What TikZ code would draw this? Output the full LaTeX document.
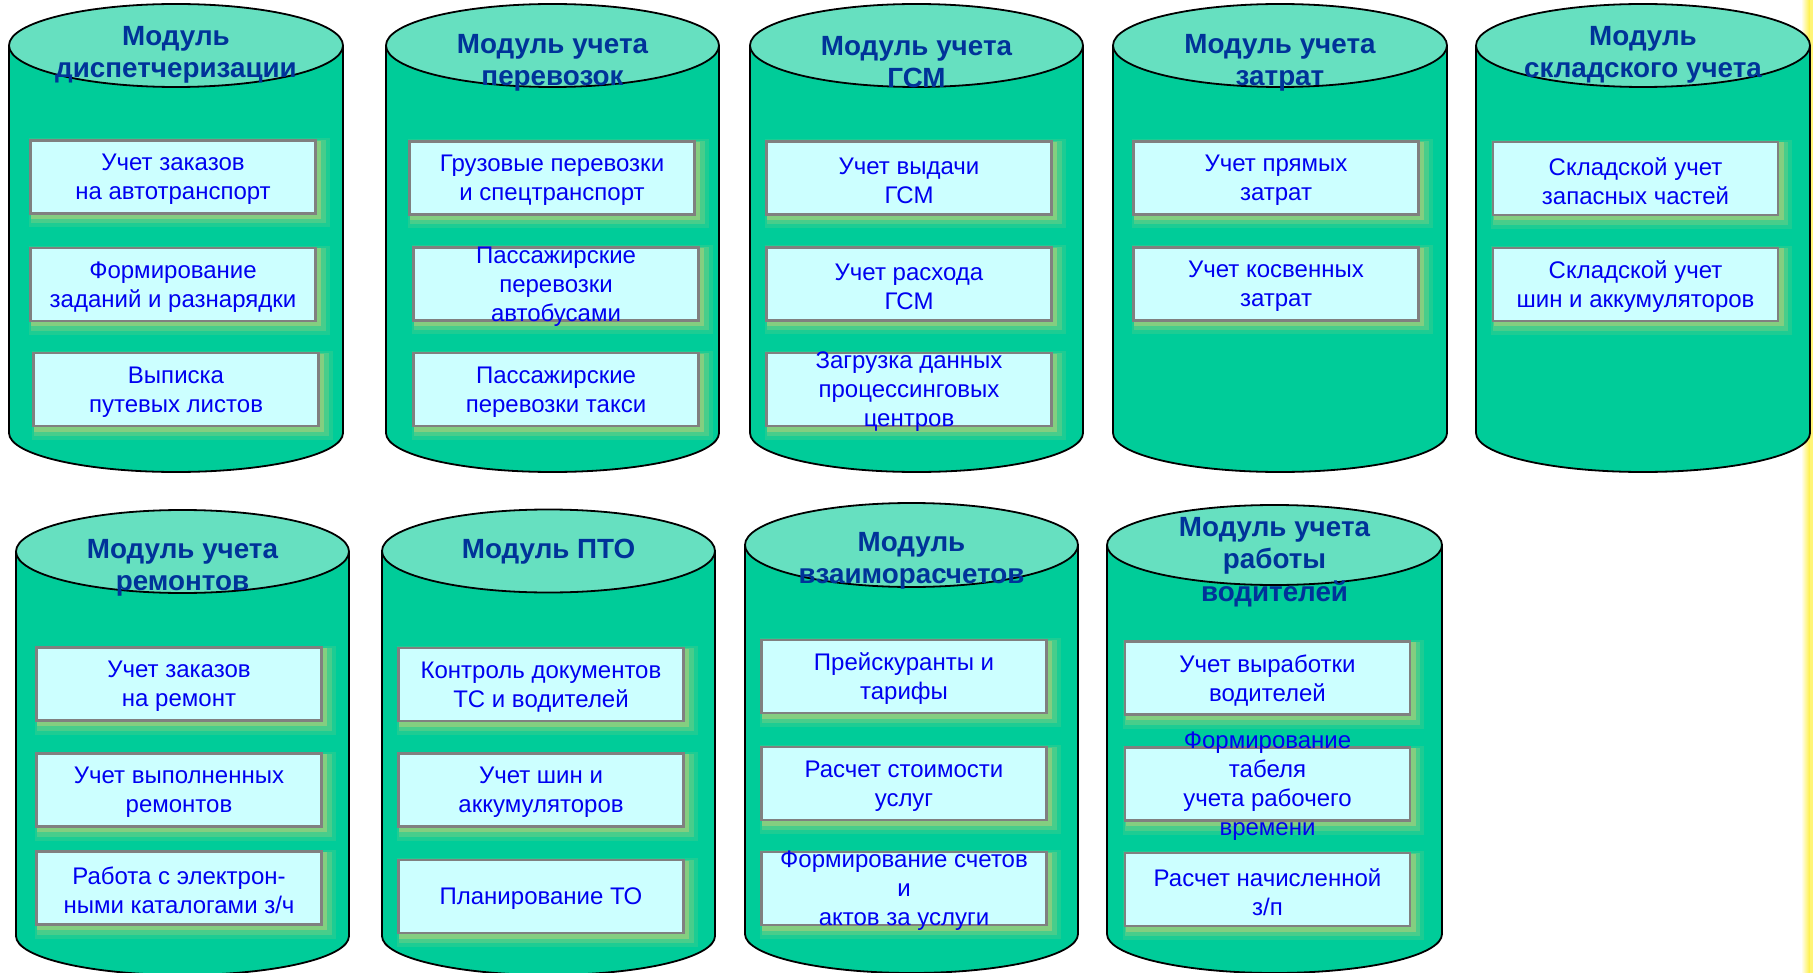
\documentclass[tikz,border=0pt]{standalone}
\usepackage{fontspec}
\newfontfamily\libsans{Liberation Sans}
\definecolor{cylbody}{RGB}{0,204,153}
\definecolor{cyltop}{RGB}{102,224,192}
\definecolor{titleblue}{RGB}{0,51,153}
\definecolor{boxblue}{RGB}{0,0,240}
\definecolor{boxfill}{RGB}{204,255,255}
\definecolor{boxgray}{RGB}{128,128,128}
\definecolor{glow}{RGB}{245,210,110}
\definecolor{edgeyellow}{RGB}{255,240,60}
\newcommand\bxfont{\libsans\fontsize{24}{29}\selectfont}
\newcommand\ttlfont{\libsans\bfseries\fontsize{27.8}{32.5}\selectfont}
\tikzset{
  body/.style={fill=cylbody, draw=black, line width=1.8pt},
  lid/.style={fill=cyltop, draw=black, line width=1.8pt},
  title/.style={font=\ttlfont, text=titleblue, align=center, inner sep=0pt, yshift=-3pt},
  modbox/.style={draw=boxgray, line width=2.6pt, fill=boxfill,
    minimum width=285pt, minimum height=73pt, inner sep=0pt,
    preaction={draw=glow, draw opacity=.12, line width=16pt,
      transform canvas={shift={(6pt,-6pt)}}},
    preaction={draw=glow, draw opacity=.20, line width=10pt,
      transform canvas={shift={(5pt,-5pt)}}},
    preaction={draw=glow, draw opacity=.35, line width=5pt,
      transform canvas={shift={(3pt,-3pt)}}}},
  btext/.style={font=\bxfont, text=boxblue, align=center, inner sep=0pt, yshift=-2.5pt}
}
\newcommand\mycyl[5]{% cx, rx, top centre y, bottom centre y, lid ry
  \draw[body] (#1-#2,#3) -- (#1-#2,#4) arc[start angle=180,end angle=0,x radius=#2,y radius=39] -- (#1+#2,#3);
  \draw[lid] (#1,#3) ellipse[x radius=#2, y radius=#5];
}
\begin{document}
\begin{tikzpicture}[x=1pt,y=-1pt]
\useasboundingbox (0,0) rectangle (1814,973);
\fill[white] (0,0) rectangle (1814,973);
\shade[left color=white, right color=edgeyellow] (1801,0) rectangle (1810,973);
\fill[edgeyellow!70] (1810,0) rectangle (1813,973);

% ---------- top row ----------
\mycyl{176}{167}{45.5}{433}{41.5}
\mycyl{552.5}{166.5}{45.5}{433}{41.5}
\mycyl{916.5}{166.5}{45.5}{433}{41.5}
\mycyl{1280}{167}{45.5}{433}{41.5}
\mycyl{1643}{167}{45.5}{433}{41.5}

\node[title] (t1) at (176,52) {Модуль\\диспетчеризации};
\node[title] (t2) at (552.5,60) {Модуль учета\\перевозок};
\node[title] (t3) at (916.5,59) {Модуль учета\\ГСМ};
\node[title] (t4) at (1280,60) {Модуль учета\\затрат};
\node[title] (t5) at (1643,52) {Модуль\\складского учета};

\node[modbox] (b11) at (173,177) {};
\node[btext] (b11t) at (b11.center) {Учет заказов\\на автотранспорт};
\node[modbox] (b12) at (173,284.5) {};
\node[btext] (b12t) at (b12.center) {Формирование\\заданий и разнарядки};
\node[modbox] (b13) at (176,389.5) {};
\node[btext] (b13t) at (b13.center) {Выписка\\путевых листов};

\node[modbox] (b21) at (552,178) {};
\node[btext] (b21t) at (b21.center) {Грузовые перевозки\\и спецтранспорт};
\node[modbox] (b22) at (556,284) {};
\node[btext] (b22t) at (b22.center) {Пассажирские\\перевозки\\автобусами};
\node[modbox] (b23) at (556,389.5) {};
\node[btext] (b23t) at (b23.center) {Пассажирские\\перевозки такси};

\node[modbox] (b31) at (909,178) {};
\node[btext] (b31t) at (b31.center) {Учет выдачи\\ГСМ};
\node[modbox] (b32) at (909,284) {};
\node[btext] (b32t) at (b32.center) {Учет расхода\\ГСМ};
\node[modbox] (b33) at (909,389.5) {};
\node[btext] (b33t) at (b33.center) {Загрузка данных\\процессинговых\\центров};

\node[modbox] (b41) at (1276,178) {};
\node[btext] (b41t) at (b41.center) {Учет прямых\\затрат};
\node[modbox] (b42) at (1276,284) {};
\node[btext] (b42t) at (b42.center) {Учет косвенных\\затрат};

\node[modbox] (b51) at (1635.5,178.5) {};
\node[btext] (b51t) at (b51.center) {Складской учет\\запасных частей};
\node[modbox] (b52) at (1635.5,284.5) {};
\node[btext] (b52t) at (b52.center) {Складской учет\\шин и аккумуляторов};

% ---------- bottom row ----------
\mycyl{182.5}{166.5}{551.5}{936}{41.5}
\mycyl{548.5}{166.5}{551}{936}{41.5}
\mycyl{911.5}{166.5}{545}{934}{42}
\mycyl{1274.5}{167.5}{545}{934}{40}

\node[title] (t6) at (182.5,565) {Модуль учета\\ремонтов};
\node[title] (t7) at (548.5,549) {Модуль ПТО};
\node[title] (t8) at (911.5,558) {Модуль\\взаиморасчетов};
\node[title] (t9) at (1274.5,559) {Модуль учета\\работы\\водителей};

\node[modbox] (b61) at (179,684) {};
\node[btext] (b61t) at (b61.center) {Учет заказов\\на ремонт};
\node[modbox] (b62) at (179,790) {};
\node[btext] (b62t) at (b62.center) {Учет выполненных\\ремонтов};
\node[modbox] (b63) at (179,888) {};
\node[btext] (b63t) at (b63.center) {Работа с электрон-\\ными каталогами з/ч};

\node[modbox] (b71) at (541,684.5) {};
\node[btext] (b71t) at (b71.center) {Контроль документов\\ТС и водителей};
\node[modbox] (b72) at (541,790) {};
\node[btext] (b72t) at (b72.center) {Учет шин и\\аккумуляторов};
\node[modbox] (b73) at (541,896.5) {};
\node[btext] (b73t) at (b73.center) {Планирование ТО};

\node[modbox] (b81) at (904,676.5) {};
\node[btext] (b81t) at (b81.center) {Прейскуранты и\\тарифы};
\node[modbox] (b82) at (904,783.5) {};
\node[btext] (b82t) at (b82.center) {Расчет стоимости\\услуг};
\node[modbox] (b83) at (904,888.5) {};
\node[btext] (b83t) at (b83.center) {Формирование счетов\\и\\актов за услуги};

\node[modbox] (b91) at (1267.5,678) {};
\node[btext] (b91t) at (b91.center) {Учет выработки\\водителей};
\node[modbox] (b92) at (1267.5,784) {};
\node[btext] (b92t) at (b92.center) {Формирование\\табеля\\учета рабочего\\времени};
\node[modbox] (b93) at (1267.5,889.5) {};
\node[btext] (b93t) at (b93.center) {Расчет начисленной\\з/п};
\end{tikzpicture}
\end{document}
